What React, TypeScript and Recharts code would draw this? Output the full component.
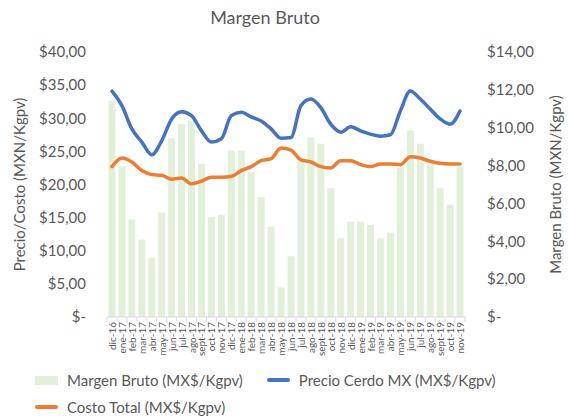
import { ComposedChart, Bar, Line, XAxis, YAxis } from "recharts";

const months = [
	"dic-16", "ene-17", "feb-17", "mar-17", "abr-17", "may-17", "jun-17", "jul-17", "ago-17",
	"sept-17", "oct-17", "nov-17", "dic-17", "ene-18", "feb-18", "mar-18", "abr-18", "may-18",
	"jun-18", "jul-18", "ago-18", "sept-18", "oct-18", "nov-18", "dic-18", "ene-19", "feb-19",
	"mar-19", "abr-19", "may-19", "jun-19", "jul-19", "ago-19", "sept-19", "oct-19", "nov-19",
];

// Margen Bruto (MX$/Kgpv), eje derecho
const margenBruto = [
	11.43, 7.95, 5.15, 4.09, 3.13, 5.52, 9.45, 10.2, 10.38,
	8.09, 5.27, 5.4, 8.8, 8.8, 7.65, 6.33, 4.78, 1.56,
	3.21, 8.36, 9.48, 9.15, 6.8, 4.16, 5.04, 5.04, 4.87,
	4.16, 4.46, 7.88, 9.85, 9.15, 8.09, 6.8, 5.94, 7.95,
];

// Precio Cerdo MX (MX$/Kgpv), eje izquierdo
const precioCerdo = [
	34.1, 31.9, 28.4, 26.4, 24.5, 26.6, 29.9, 31.0, 30.4,
	28.1, 26.4, 26.9, 30.4, 30.9, 30.2, 29.6, 28.4, 27.0,
	27.1, 31.9, 32.9, 31.6, 29.1, 27.9, 28.7, 28.1, 27.6,
	27.3, 27.5, 31.1, 34.1, 32.9, 31.4, 29.9, 29.1, 31.1,
];

// Costo Total (MX$/Kgpv), eje izquierdo
const costoTotal = [
	22.7, 24.0, 23.4, 22.1, 21.5, 21.4, 20.8, 21.0, 20.1,
	20.5, 21.1, 21.1, 21.2, 22.1, 22.7, 23.6, 23.9, 25.5,
	25.2, 23.7, 23.4, 22.7, 22.5, 23.6, 23.6, 23.0, 22.7,
	23.1, 23.1, 23.0, 24.2, 24.0, 23.5, 23.2, 23.1, 23.1,
];

const leftTicks = [0, 5, 10, 15, 20, 25, 30, 35, 40];
const rightTicks = [0, 2, 4, 6, 8, 10, 12, 14];

const data = months.map((m, i) => ({
	month: m,
	margen: margenBruto[i],
	precio: precioCerdo[i],
	costo: costoTotal[i],
}));

const FONT = "Lato, 'Open Sans', sans-serif";
const TEXT = "#595959";
const GREEN = "#e2efd9";
const BLUE = "#4472c4";
const ORANGE = "#ed7d31";
const HALF_BAND = 4.97;

const money = (v: number) =>
	v === 0 ? "$-" : `$${v.toFixed(2).replace(".", ",")}`;

function MonthTick({ x, y, payload, index }: any) {
	return (
		<g>
			<line x1={x + HALF_BAND} y1={y} x2={x + HALF_BAND} y2={y + 5} stroke="#d9d9d9" />
			{index === 0 && (
				<line x1={x - HALF_BAND} y1={y} x2={x - HALF_BAND} y2={y + 5} stroke="#d9d9d9" />
			)}
			<text
				transform={`translate(${x},${y + 5}) rotate(-90)`}
				textAnchor="end"
				dominantBaseline="central"
				fontSize={10}
				fontFamily={FONT}
				fill={TEXT}
			>
				{payload.value}
			</text>
		</g>
	);
}

function LegendItem({ kind, color, label }: { kind: "rect" | "line"; color: string; label: string }) {
	return (
		<div style={{ display: "flex", alignItems: "center" }}>
			<span
				style={{
					display: "inline-block",
					width: 23,
					height: kind === "rect" ? 9 : 4,
					borderRadius: kind === "rect" ? 0 : 2,
					background: color,
					marginRight: 9,
				}}
			/>
			<span>{label}</span>
		</div>
	);
}

export default function App() {
	return (
		<div
			style={{
				position: "absolute",
				left: 0,
				top: 0,
				width: 568,
				height: 418,
				background: "#fff",
				fontFamily: FONT,
				color: TEXT,
			}}
		>
			<div
				style={{
					position: "absolute",
					left: 165,
					width: 200,
					top: 7,
					textAlign: "center",
					fontSize: 18,
					lineHeight: "20px",
				}}
			>
				Margen Bruto
			</div>

			<ComposedChart
				width={568}
				height={418}
				data={data}
				margin={{ top: 52, right: 0, bottom: 51, left: 0 }}
				barCategoryGap="15%"
			>
				<XAxis
					dataKey="month"
					interval={0}
					height={50}
					tickSize={0}
					tickMargin={0}
					tick={<MonthTick />}
					axisLine={{ stroke: "#d9d9d9" }}
				/>
				<YAxis
					yAxisId="left"
					domain={[0, 40]}
					ticks={leftTicks}
					tickFormatter={money}
					width={107}
					axisLine={false}
					tickLine={false}
					tickSize={0}
					tickMargin={21}
					tick={{ fontSize: 15, fill: TEXT, fontFamily: FONT }}
					label={{
						value: "Precio/Costo (MXN/Kgpv)",
						angle: -90,
						position: "insideLeft",
						offset: 20,
						style: { textAnchor: "middle", fontSize: 15, fill: TEXT, fontFamily: FONT },
					}}
				/>
				<YAxis
					yAxisId="right"
					orientation="right"
					domain={[0, 14]}
					ticks={rightTicks}
					tickFormatter={money}
					width={103}
					axisLine={false}
					tickLine={false}
					tickSize={0}
					tickMargin={22}
					tick={{ fontSize: 15, fill: TEXT, fontFamily: FONT }}
					label={{
						value: "Margen Bruto (MXN/Kgpv)",
						angle: -90,
						position: "insideRight",
						offset: 12,
						style: { textAnchor: "middle", fontSize: 15, fill: TEXT, fontFamily: FONT },
					}}
				/>
				<Bar
					yAxisId="right"
					dataKey="margen"
					name="Margen Bruto (MX$/Kgpv)"
					fill={GREEN}
					isAnimationActive={false}
				/>
				<Line
					yAxisId="left"
					type="monotone"
					dataKey="precio"
					name="Precio Cerdo MX (MX$/Kgpv)"
					stroke={BLUE}
					strokeWidth={3.5}
					strokeLinecap="round"
					dot={false}
					activeDot={false}
					isAnimationActive={false}
				/>
				<Line
					yAxisId="left"
					type="monotone"
					dataKey="costo"
					name="Costo Total (MX$/Kgpv)"
					stroke={ORANGE}
					strokeWidth={3.5}
					strokeLinecap="round"
					dot={false}
					activeDot={false}
					isAnimationActive={false}
				/>
			</ComposedChart>

			<div style={{ position: "absolute", left: 35, top: 370, fontSize: 15, lineHeight: "20px" }}>
				<div style={{ display: "flex", gap: 24 }}>
					<LegendItem kind="rect" color={GREEN} label="Margen Bruto (MX$/Kgpv)" />
					<LegendItem kind="line" color={BLUE} label="Precio Cerdo MX (MX$/Kgpv)" />
				</div>
				<div style={{ marginTop: 7 }}>
					<LegendItem kind="line" color={ORANGE} label="Costo Total (MX$/Kgpv)" />
				</div>
			</div>
		</div>
	);
}
